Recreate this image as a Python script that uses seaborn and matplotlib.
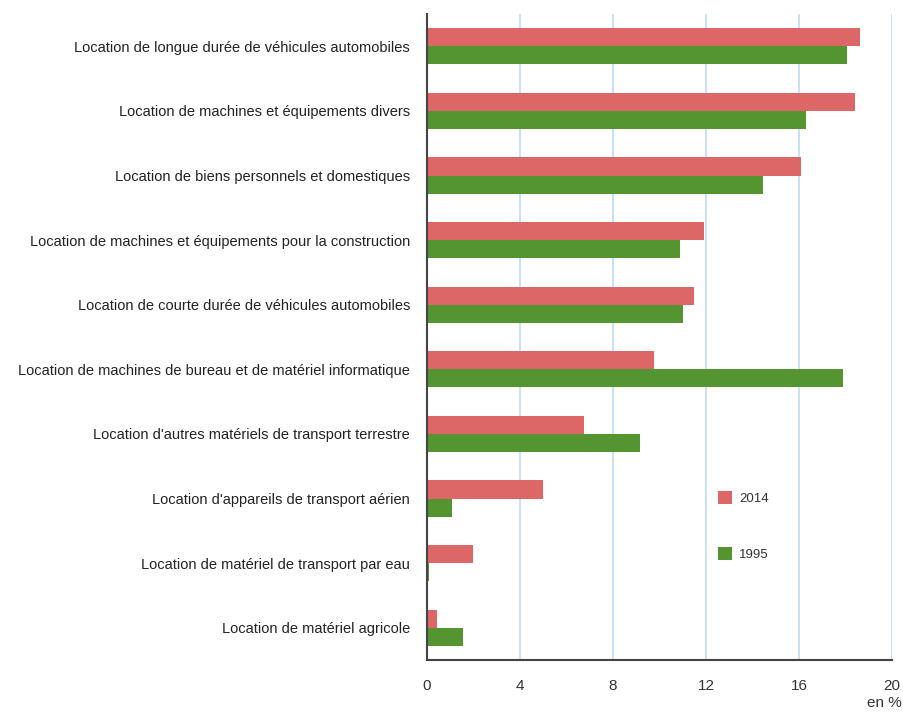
import matplotlib
matplotlib.use("Agg")
import matplotlib.pyplot as plt
import seaborn as sns
import pandas as pd
from matplotlib.patches import Patch

categories = [
    "Location de longue durée de véhicules automobiles",
    "Location de machines et équipements divers",
    "Location de biens personnels et domestiques",
    "Location de machines et équipements pour la construction",
    "Location de courte durée de véhicules automobiles",
    "Location de machines de bureau et de matériel informatique",
    "Location d'autres matériels de transport terrestre",
    "Location d'appareils de transport aérien",
    "Location de matériel de transport par eau",
    "Location de matériel agricole",
]
values_2014 = [18.6, 18.4, 16.1, 11.9, 11.5, 9.75, 6.75, 5.0, 2.0, 0.45]
values_1995 = [18.05, 16.3, 14.45, 10.9, 11.0, 17.9, 9.15, 1.1, 0.1, 1.55]
years = ["2014", "1995"]
xticks = [0, 4, 8, 12, 16, 20]

df = pd.DataFrame({
    "cat": categories * 2,
    "val": values_2014 + values_1995,
    "year": [years[0]] * len(categories) + [years[1]] * len(categories),
})

sns.set_theme(style="white")
plt.rcParams["font.family"] = ["Liberation Sans", "DejaVu Sans"]

colors = {"2014": "#dd6667", "1995": "#549431"}

fig = plt.figure(figsize=(9.04, 7.13), dpi=100)
ax = fig.add_axes([0.472, 0.0743, 0.515, 0.906])
sns.barplot(data=df, x="val", y="cat", hue="year", hue_order=years,
            palette=colors, orient="h", width=0.56, saturation=1,
            ax=ax, legend=False)
for p in ax.patches:
    p.set_edgecolor("none")
    p.set_linewidth(0)

ax.set_xlim(0, 20)
ax.set_ylim(len(categories) - 0.5, -0.5)
ax.set_xticks(xticks)
ax.set_xticklabels([str(t) for t in xticks], fontsize=11, color="#333333")
ax.tick_params(axis="y", labelsize=10.5, labelcolor="#222222", length=0, pad=12)
ax.tick_params(axis="x", length=0, pad=14)
ax.set_xlabel("")
ax.set_ylabel("")
ax.grid(False)
for t in xticks[1:]:
    ax.axvline(t, color="#bfe0f4", lw=1.3, zorder=0)
ax.set_axisbelow(True)
for s in ["top", "right"]:
    ax.spines[s].set_visible(False)
for s in ["left", "bottom"]:
    ax.spines[s].set_color("#444444")
    ax.spines[s].set_linewidth(1.5)

handles = [Patch(facecolor=colors[y], edgecolor="none", label=y) for y in years]
leg = ax.legend(handles=handles, loc="upper left", bbox_to_anchor=(0.6, 0.28),
                frameon=False, fontsize=9.5, labelspacing=3.2,
                handlelength=1.1, handleheight=1.1, handletextpad=0.5)
for t in leg.get_texts():
    t.set_color("#333333")

fig.text(0.997, 0.004, "en %", ha="right", va="bottom", fontsize=11, color="#333333")

fig.savefig("out.png", dpi=100)
